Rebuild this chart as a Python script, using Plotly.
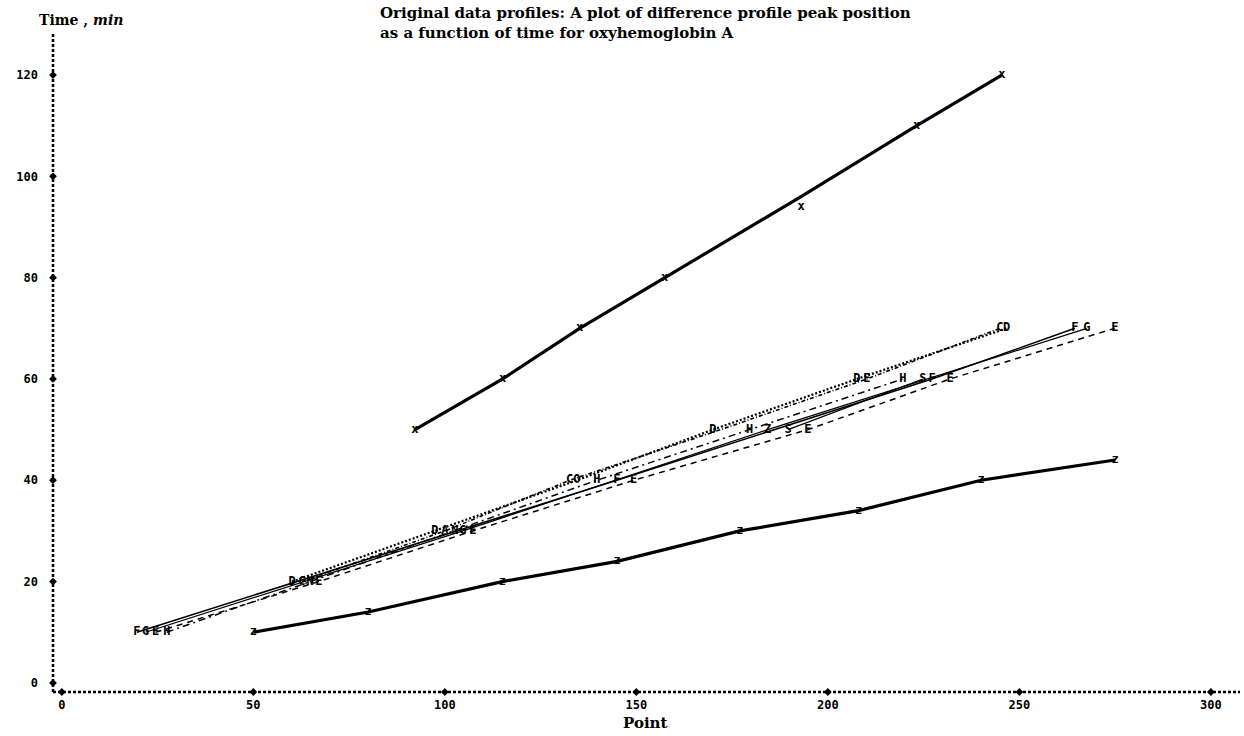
import plotly.graph_objects as go

# ---------------- data ----------------
# Upper curve (symbol X): Point position vs time
X_POINT = [92.2, 115.1, 135.2, 157.4, 193.0, 223.2, 245.4]
X_TIME = [50, 60, 70, 80, 94, 110, 120]
X_LINE_TIME = [50, 60, 70, 80, 96, 110, 120]   # drawn line, read at the same points

# Lower curve (symbol Z)
Z_POINT = [50.0, 80.0, 115.0, 145.0, 177.0, 208.0, 240.0, 275.0]
Z_TIME = [10, 14, 20, 24, 30, 34, 40, 44]

# Cluster of difference-profile series
D_POINT = [60.1, 97.4, 134.5, 170.0, 207.6, 246.7]
D_TIME = [20, 30, 40, 50, 60, 70]
D_LAB = ["D", "D", "O", "D", "D", "D"]

C_POINT = [62.7, 100.0, 132.6, 172.0, 210.2, 244.9]
C_TIME = [20, 30, 40, 50, 60, 70]
C_LAB = ["C", "A", "C", "", "E", "C"]

H_POINT = [27.4, 64.8, 102.6, 139.7, 179.6, 219.6]
H_TIME = [10, 20, 30, 40, 50, 60]
H_LAB = ["H", "N", "N", "H", "H", "H"]

F_POINT = [19.6, 144.9, 227.2, 264.5]
F_TIME = [10, 40, 60, 70]
F_LAB = ["F", "F", "F", "F"]

G_POINT = [21.9, 104.7, 184.3, 267.6]
G_TIME = [10, 30, 50, 70]
G_LAB = ["G", "G", "Z", "G"]

S_POINT = [189.6, 224.8]
S_TIME = [50, 60]
S_LAB = ["S", "S"]

E_POINT = [24.5, 67.1, 107.3, 149.3, 194.8, 231.9, 274.9]
E_TIME = [10, 20, 30, 40, 50, 60, 70]
E_LAB = ["E", "E", "E", "E", "E", "E", "E"]

X_TICKS = [0, 50, 100, 150, 200, 250, 300]
Y_TICKS = [0, 20, 40, 60, 80, 100, 120]
X_RANGE = [-2.3, 307.6]
Y_RANGE = [-1.8, 128.3]

TITLE = "Original data profiles: A plot of difference profile peak position<br>as a function of time for oxyhemoglobin A"

# ---------------- figure ----------------
GLYPH = dict(family="DejaVu Sans Mono", size=12, color="#000000", weight="bold")
fig = go.Figure()


def series(px, tm, labels, dash, width):
    fig.add_trace(go.Scatter(x=px, y=tm, mode="lines", line=dict(color="black", width=width, dash=dash),
                             hoverinfo="skip", showlegend=False))
    fig.add_trace(go.Scatter(x=px, y=tm, mode="text", text=labels, textposition="middle center",
                             textfont=GLYPH, hoverinfo="skip", showlegend=False))


series(E_POINT, E_TIME, E_LAB, "6px,5px", 1.5)
series(F_POINT, F_TIME, F_LAB, "solid", 1.5)
series(G_POINT, G_TIME, G_LAB, "solid", 1.2)
series(S_POINT, S_TIME, S_LAB, "solid", 1.2)
series(H_POINT, H_TIME, H_LAB, "7px,4px,2px,4px", 1.5)
series(C_POINT, C_TIME, C_LAB, "4px,2px,1px,2px", 1.6)
series(D_POINT, D_TIME, D_LAB, "2px,2px", 2.2)

# X curve
fig.add_trace(go.Scatter(x=X_POINT, y=X_LINE_TIME, mode="lines", line=dict(color="black", width=3.2),
                         hoverinfo="skip", showlegend=False))
fig.add_trace(go.Scatter(x=X_POINT, y=X_TIME, mode="text", text=["x"] * len(X_POINT),
                         textfont=GLYPH, hoverinfo="skip", showlegend=False))
# Z curve
fig.add_trace(go.Scatter(x=Z_POINT, y=Z_TIME, mode="lines", line=dict(color="black", width=3.2),
                         hoverinfo="skip", showlegend=False))
fig.add_trace(go.Scatter(x=Z_POINT, y=Z_TIME, mode="text", text=["z"] * len(Z_POINT),
                         textfont=GLYPH, hoverinfo="skip", showlegend=False))

# tick diamonds on the axes
fig.add_trace(go.Scatter(x=X_TICKS, y=[Y_RANGE[0]] * len(X_TICKS), mode="markers", cliponaxis=False,
                         marker=dict(symbol="diamond", size=6, color="black"), hoverinfo="skip", showlegend=False))
fig.add_trace(go.Scatter(x=[X_RANGE[0]] * len(Y_TICKS), y=Y_TICKS, mode="markers", cliponaxis=False,
                         marker=dict(symbol="diamond", size=6, color="black"), hoverinfo="skip", showlegend=False))

# dotted axis lines
fig.add_shape(type="line", xref="paper", yref="paper", x0=0, x1=1, y0=0, y1=0,
              line=dict(color="black", width=2.5, dash="3px,2px"))
fig.add_shape(type="line", xref="paper", yref="paper", x0=0, x1=0, y0=0, y1=1,
              line=dict(color="black", width=2.5, dash="3px,2px"))

TICKFONT = dict(family="DejaVu Sans Mono", size=12, color="black", weight="bold")
fig.update_layout(
    width=1244, height=736,
    margin=dict(l=53, r=4, t=33, b=44),
    paper_bgcolor="white", plot_bgcolor="white",
    xaxis=dict(range=X_RANGE, tickvals=X_TICKS, ticktext=[str(v) for v in X_TICKS], showgrid=False,
               zeroline=False, showline=False, ticks="", tickfont=TICKFONT, ticklabelstandoff=4),
    yaxis=dict(range=Y_RANGE, tickvals=Y_TICKS, ticktext=[str(v) for v in Y_TICKS], showgrid=False,
               zeroline=False, showline=False, ticks="", tickfont=TICKFONT, ticklabelstandoff=14),
    annotations=[
        dict(text=TITLE, xref="paper", yref="paper", x=0.2738, y=1.047, xanchor="left", yanchor="top",
             align="left", showarrow=False,
             font=dict(family="DejaVu Serif", size=15, color="black", weight="bold")),
        dict(text="<b>Time , </b><b><i>min</i></b>", xref="paper", yref="paper", x=-0.0135, y=1.0197,
             xanchor="left", yanchor="middle", showarrow=False,
             font=dict(family="DejaVu Serif", size=14, color="black")),
        dict(text="<b>Point</b>", xref="paper", yref="paper", x=0.4987, y=-0.047, xanchor="center",
             yanchor="middle", showarrow=False, font=dict(family="DejaVu Serif", size=15, color="black")),
    ],
)

fig.write_html("out.html", config={"displayModeBar": False})
